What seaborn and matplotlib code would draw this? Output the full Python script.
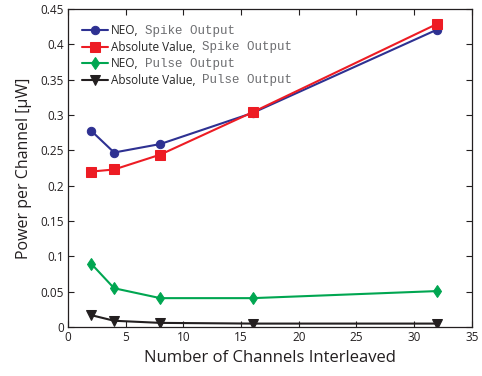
import matplotlib
matplotlib.use("Agg")
import matplotlib.pyplot as plt
import seaborn as sns
import pandas as pd

channels = [2, 4, 8, 16, 32]
neo_spike = [0.278, 0.247, 0.259, 0.303, 0.421]
abs_spike = [0.220, 0.223, 0.244, 0.304, 0.429]
neo_pulse = [0.090, 0.055, 0.041, 0.041, 0.051]
abs_pulse = [0.017, 0.009, 0.006, 0.005, 0.005]

methods = ["NEO,", "Absolute Value,", "NEO,", "Absolute Value,"]
outputs = ["Spike Output", "Spike Output", "Pulse Output", "Pulse Output"]
series = [neo_spike, abs_spike, neo_pulse, abs_pulse]
colors = ["#2E3192", "#ED1C24", "#00A651", "#231F20"]
markers = ["o", "s", "d", "v"]
sizes = [6, 7, 6, 7]

rows = []
for i, vals in enumerate(series):
    for c, v in zip(channels, vals):
        rows.append({"channels": c, "power": v, "series": i})
df = pd.DataFrame(rows)

sns.set_style("ticks")
plt.rcParams["font.family"] = ["Open Sans", "DejaVu Sans"]

fig = plt.figure(figsize=(4.82, 3.76), dpi=100)
ax = fig.add_axes([0.141, 0.130, 0.838, 0.846])

for i in range(4):
    sub = df[df["series"] == i]
    sns.lineplot(data=sub, x="channels", y="power", ax=ax, color=colors[i],
                 marker=markers[i], markersize=sizes[i], markeredgecolor=colors[i],
                 linewidth=1.5, label=methods[i])

ax.set_xlim(0, 35)
ax.set_ylim(0, 0.45)
ax.set_xticks([0, 5, 10, 15, 20, 25, 30, 35])
ax.set_yticks([0, 0.05, 0.1, 0.15, 0.2, 0.25, 0.3, 0.35, 0.4, 0.45])
ax.set_yticklabels(["0", "0.05", "0.1", "0.15", "0.2", "0.25", "0.3", "0.35", "0.4", "0.45"])
ax.tick_params(direction="in", top=True, right=True, labelsize=8.5, length=4, width=0.8,
               colors="#231F20", pad=3)
for s in ax.spines.values():
    s.set_linewidth(0.9)
    s.set_color("#231F20")
ax.set_xlabel("Number of Channels Interleaved", fontsize=12, color="#231F20", labelpad=4)
ax.set_ylabel("Power per Channel [\u03bcW]", fontsize=11.5, color="#231F20", labelpad=6)

leg = ax.legend(loc="upper left", frameon=False, fontsize=8.5, handlelength=2.2,
                handletextpad=0.25, labelspacing=0.3, borderaxespad=0.4,
                bbox_to_anchor=(0.012, 0.982))
fig.canvas.draw()
renderer = fig.canvas.get_renderer()
inv = fig.transFigure.inverted()
for txt, out in zip(leg.get_texts(), outputs):
    bb = txt.get_window_extent(renderer)
    x0, y0 = inv.transform((bb.x1 + 6, (bb.y0 + bb.y1) / 2))
    fig.text(x0, y0, out, family=["Liberation Mono", "DejaVu Sans Mono"], fontsize=9,
             color="#6D6E71", va="center", ha="left")

fig.savefig("out.png", dpi=100)
